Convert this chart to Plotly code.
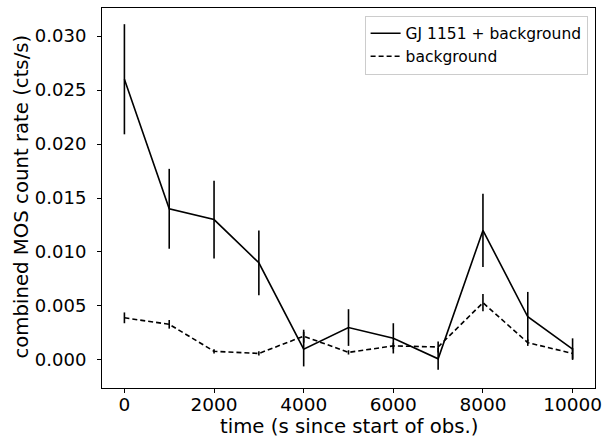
import plotly.graph_objects as go

time_s = [0, 1000, 2000, 3000, 4000, 5000, 6000, 7000, 8000, 9000, 10000]
src_rate = [0.026, 0.014, 0.013, 0.009, 0.001, 0.003, 0.002, 0.0001, 0.012, 0.004, 0.001]
src_err = [0.0051, 0.0037, 0.0036, 0.0030, 0.0016, 0.0017, 0.0014, 0.0010, 0.0034, 0.0023, 0.0010]
bkg_rate = [0.0039, 0.0033, 0.0008, 0.0006, 0.0022, 0.0007, 0.0013, 0.0012, 0.0053, 0.0016, 0.0006]
bkg_err = [0.0005, 0.0004, 0.0002, 0.0002, 0.0006, 0.0002, 0.0003, 0.0005, 0.0008, 0.0003, 0.0005]
x_ticks = [0, 2000, 4000, 6000, 8000, 10000]
y_ticks = [0, 0.005, 0.01, 0.015, 0.02, 0.025, 0.03]
x_title = "time (s since start of obs.)"
y_title = "combined MOS count rate (cts/s)"

FONT = "DejaVu Sans"

fig = go.Figure()
fig.add_trace(go.Scatter(
    x=time_s, y=src_rate, mode="lines", name="GJ 1151 + background",
    line=dict(color="black", width=1.6),
    error_y=dict(type="data", array=src_err, visible=True, width=0, thickness=1.6, color="black"),
))
fig.add_trace(go.Scatter(
    x=time_s, y=bkg_rate, mode="lines", name="background",
    line=dict(color="black", width=1.6, dash="5px,3px"),
    error_y=dict(type="data", array=bkg_err, visible=True, width=0, thickness=1.6, color="black"),
))

fig.update_layout(
    width=613, height=436,
    margin=dict(l=102, r=18, t=8, b=48, autoexpand=False),
    plot_bgcolor="white", paper_bgcolor="white",
    font=dict(family=FONT, color="black", size=18.5),
    xaxis=dict(
        range=[-500, 10500], tickmode="array", tickvals=x_ticks,
        ticktext=[str(v) for v in x_ticks],
        showline=True, linecolor="black", linewidth=1, mirror=True,
        ticks="outside", ticklen=4, tickwidth=1, tickcolor="black",
        showgrid=False, zeroline=False, automargin=False,
        ticklabelstandoff=-4,
        tickfont=dict(family=FONT, size=18.5, color="black"),
    ),
    yaxis=dict(
        range=[-0.0026, 0.0326], tickmode="array", tickvals=y_ticks,
        ticktext=["%.3f" % v for v in y_ticks],
        showline=True, linecolor="black", linewidth=1, mirror=True,
        ticks="outside", ticklen=4, tickwidth=1, tickcolor="black",
        showgrid=False, zeroline=False, automargin=False,
        ticklabelstandoff=7,
        tickfont=dict(family=FONT, size=18, color="black"),
    ),
    annotations=[
        dict(text=x_title, xref="paper", yref="paper", x=0.5, y=0,
             xanchor="center", yanchor="middle", yshift=-38, showarrow=False, borderpad=0,
             font=dict(family=FONT, size=19.7, color="black")),
        dict(text=y_title, xref="paper", yref="paper", x=0, y=0.5,
             xanchor="center", yanchor="middle", xshift=-81, yshift=1.5, textangle=-90,
             showarrow=False, borderpad=0, font=dict(family=FONT, size=19.7, color="black")),
    ],
    legend=dict(
        x=0.985, y=0.98, xanchor="right", yanchor="top",
        bordercolor="#cccccc", borderwidth=1, bgcolor="white",
        font=dict(family=FONT, size=15.5, color="black"),
        tracegroupgap=0, itemwidth=30,
    ),
    showlegend=True,
)
fig.write_html(
    "out.html",
    config={"displayModeBar": False},
    post_script="document.body.style.margin='0';document.body.style.padding='0';document.body.style.overflow='hidden';",
)
